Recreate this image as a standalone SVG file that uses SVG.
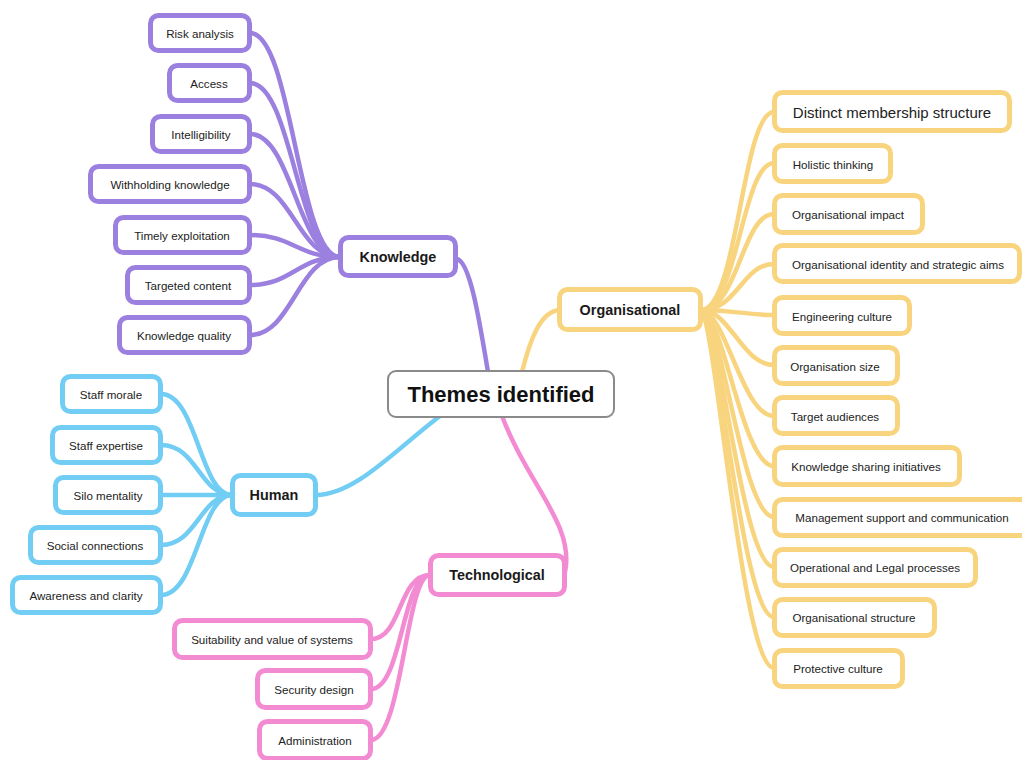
<svg xmlns="http://www.w3.org/2000/svg" width="1022" height="760" viewBox="0 0 1022 760">
  <style>
    .box { fill: #ffffff; stroke-width: 5; }
    .k { stroke: #9b80e0; }
    .h { stroke: #72cdf4; }
    .t { stroke: #f38bd3; }
    .o { stroke: #f8d47f; }
    .link { fill: none; stroke-width: 4.5; stroke-linecap: round; }
    .leaf { font-family: "Liberation Sans", Arial, sans-serif; font-size: 11.6px; fill: #222; text-anchor: middle; dominant-baseline: central; }
    .branch { font-family: "Liberation Sans", Arial, sans-serif; font-size: 14.4px; font-weight: bold; fill: #1a1a1a; text-anchor: middle; dominant-baseline: central; }
    .root { font-family: "Liberation Sans", Arial, sans-serif; font-size: 22px; font-weight: bold; fill: #111; text-anchor: middle; dominant-baseline: central; }
  </style>
  <rect width="1022" height="760" fill="#ffffff"/>

  <g id="connectors">
    <!-- root to branches -->
    <path class="link k" d="M457,259 C470,262 479,318 488,372"/>
    <path class="link o" d="M559,310 C540,312 530,340 522,372"/>
    <path class="link h" d="M316,495 C355,495 395,450 440,416"/>
    <path class="link t" d="M502,416 C528,485 575,525 565,572"/>

    <!-- Knowledge leaves -->
    <path class="link k" d="M250,33 C292,33 298,257 340,257"/>
    <path class="link k" d="M250,83 C292,83 298,257 340,257"/>
    <path class="link k" d="M250,134 C292,134 298,257 340,257"/>
    <path class="link k" d="M250,184 C292,184 298,257 340,257"/>
    <path class="link k" d="M250,235 C292,235 298,257 340,257"/>
    <path class="link k" d="M250,285 C292,285 298,257 340,257"/>
    <path class="link k" d="M250,335 C292,335 298,257 340,257"/>

    <!-- Human leaves -->
    <path class="link h" d="M161,394 C197,394 200,495 232,495"/>
    <path class="link h" d="M161,445 C197,445 200,495 232,495"/>
    <path class="link h" d="M161,495 L232,495"/>
    <path class="link h" d="M161,545 C197,545 200,495 232,495"/>
    <path class="link h" d="M161,595 C197,595 200,495 232,495"/>

    <!-- Technological leaves -->
    <path class="link t" d="M371,639 C402,639 398,575 430,575"/>
    <path class="link t" d="M371,689 C402,689 402,575 430,575"/>
    <path class="link t" d="M371,740 C402,740 406,575 430,575"/>

    <!-- Organisational leaves -->
    <path class="link o" d="M701,310 C738,310 742,112 774,112"/>
    <path class="link o" d="M701,310 C738,310 742,163 774,163"/>
    <path class="link o" d="M701,310 C738,310 742,214 774,214"/>
    <path class="link o" d="M701,310 C738,310 742,264 774,264"/>
    <path class="link o" d="M701,310 C738,310 742,315 774,315"/>
    <path class="link o" d="M701,310 C730,310 742,365 774,365"/>
    <path class="link o" d="M701,310 C726,312 742,416 774,416"/>
    <path class="link o" d="M701,310 C724,314 742,466 774,466"/>
    <path class="link o" d="M701,310 C722,316 742,517 774,517"/>
    <path class="link o" d="M701,310 C720,318 742,567 774,567"/>
    <path class="link o" d="M701,310 C718,320 742,617 774,617"/>
    <path class="link o" d="M701,310 C716,322 742,668 774,668"/>
  </g>

  <!-- root -->
  <g id="root">
    <rect x="388" y="371" width="226" height="46" rx="8" fill="#ffffff" stroke="#8a8a8a" stroke-width="2"/>
    <text class="root" x="501" y="394">Themes identified</text>
  </g>

  <!-- Knowledge branch -->
  <g id="knowledge">
    <rect class="box k" x="340.5" y="237.5" width="115" height="38" rx="8"/>
    <text class="branch" x="398" y="257">Knowledge</text>
  </g>
  <g id="k-risk"><rect class="box k" x="150.5" y="15.5" width="99" height="35" rx="8"/><text class="leaf" x="200" y="33">Risk analysis</text></g>
  <g id="k-access"><rect class="box k" x="169.5" y="65.5" width="80" height="35" rx="8"/><text class="leaf" x="209" y="83">Access</text></g>
  <g id="k-intelligibility"><rect class="box k" x="152.5" y="116.5" width="97" height="35" rx="8"/><text class="leaf" x="201" y="134">Intelligibility</text></g>
  <g id="k-withholding"><rect class="box k" x="90.5" y="166.5" width="159" height="35" rx="8"/><text class="leaf" x="170" y="184">Withholding knowledge</text></g>
  <g id="k-timely"><rect class="box k" x="115.5" y="217.5" width="134" height="35" rx="8"/><text class="leaf" x="182" y="235">Timely exploitation</text></g>
  <g id="k-targeted"><rect class="box k" x="127.5" y="267.5" width="122" height="35" rx="8"/><text class="leaf" x="188" y="285">Targeted content</text></g>
  <g id="k-quality"><rect class="box k" x="119.5" y="317.5" width="130" height="35" rx="8"/><text class="leaf" x="184" y="335">Knowledge quality</text></g>

  <!-- Human branch -->
  <g id="human">
    <rect class="box h" x="232.5" y="475.5" width="83" height="39" rx="8"/>
    <text class="branch" x="274" y="495">Human</text>
  </g>
  <g id="h-morale"><rect class="box h" x="62.5" y="376.5" width="98" height="35" rx="8"/><text class="leaf" x="111" y="394">Staff morale</text></g>
  <g id="h-expertise"><rect class="box h" x="52.5" y="427.5" width="108" height="35" rx="8"/><text class="leaf" x="106" y="445">Staff expertise</text></g>
  <g id="h-silo"><rect class="box h" x="55.5" y="477.5" width="105" height="35" rx="8"/><text class="leaf" x="108" y="495">Silo mentality</text></g>
  <g id="h-social"><rect class="box h" x="30.5" y="527.5" width="130" height="35" rx="8"/><text class="leaf" x="95" y="545">Social connections</text></g>
  <g id="h-awareness"><rect class="box h" x="12.5" y="577.5" width="148" height="35" rx="8"/><text class="leaf" x="86" y="595">Awareness and clarity</text></g>

  <!-- Technological branch -->
  <g id="technological">
    <rect class="box t" x="430.5" y="555.5" width="134" height="39" rx="8"/>
    <text class="branch" x="497" y="575">Technological</text>
  </g>
  <g id="t-suitability"><rect class="box t" x="174.5" y="620.5" width="196" height="37" rx="8"/><text class="leaf" x="272" y="639">Suitability and value of systems</text></g>
  <g id="t-security"><rect class="box t" x="257.5" y="670.5" width="113" height="37" rx="8"/><text class="leaf" x="314" y="689">Security design</text></g>
  <g id="t-admin"><rect class="box t" x="259.5" y="721.5" width="111" height="37" rx="8"/><text class="leaf" x="315" y="740">Administration</text></g>

  <!-- Organisational branch -->
  <g id="organisational">
    <rect class="box o" x="559.5" y="289.5" width="141" height="40" rx="8"/>
    <text class="branch" x="630" y="310">Organisational</text>
  </g>
  <g id="o-membership"><rect class="box o" x="774.5" y="92.5" width="235" height="38" rx="8"/><text class="leaf" x="892" y="112" style="font-size:15px">Distinct membership structure</text></g>
  <g id="o-holistic"><rect class="box o" x="774.5" y="145.5" width="116" height="36" rx="8"/><text class="leaf" x="833" y="164">Holistic thinking</text></g>
  <g id="o-impact"><rect class="box o" x="774.5" y="195.5" width="148" height="37" rx="8"/><text class="leaf" x="848" y="214">Organisational impact</text></g>
  <g id="o-identity"><rect class="box o" x="774.5" y="245.5" width="245" height="36" rx="8"/><text class="leaf" x="898" y="264">Organisational identity and strategic aims</text></g>
  <g id="o-engineering"><rect class="box o" x="774.5" y="297.5" width="135" height="36" rx="8"/><text class="leaf" x="842" y="316">Engineering culture</text></g>
  <g id="o-size"><rect class="box o" x="774.5" y="347.5" width="123" height="36" rx="8"/><text class="leaf" x="835" y="366">Organisation size</text></g>
  <g id="o-audiences"><rect class="box o" x="774.5" y="397.5" width="123" height="36" rx="8"/><text class="leaf" x="835" y="416">Target audiences</text></g>
  <g id="o-sharing"><rect class="box o" x="774.5" y="447.5" width="185" height="37" rx="8"/><text class="leaf" x="866" y="466">Knowledge sharing initiatives</text></g>
  <g id="o-management"><rect class="box o" x="774.5" y="499.5" width="256" height="36" rx="8"/><text class="leaf" x="902" y="517">Management support and communication</text></g>
  <g id="o-operational"><rect class="box o" x="774.5" y="549.5" width="201" height="36" rx="8"/><text class="leaf" x="875" y="567">Operational and Legal processes</text></g>
  <g id="o-structure"><rect class="box o" x="774.5" y="599.5" width="160" height="36" rx="8"/><text class="leaf" x="854" y="617">Organisational structure</text></g>
  <g id="o-protective"><rect class="box o" x="774.5" y="650.5" width="128" height="36" rx="8"/><text class="leaf" x="838" y="668">Protective culture</text></g>
</svg>
